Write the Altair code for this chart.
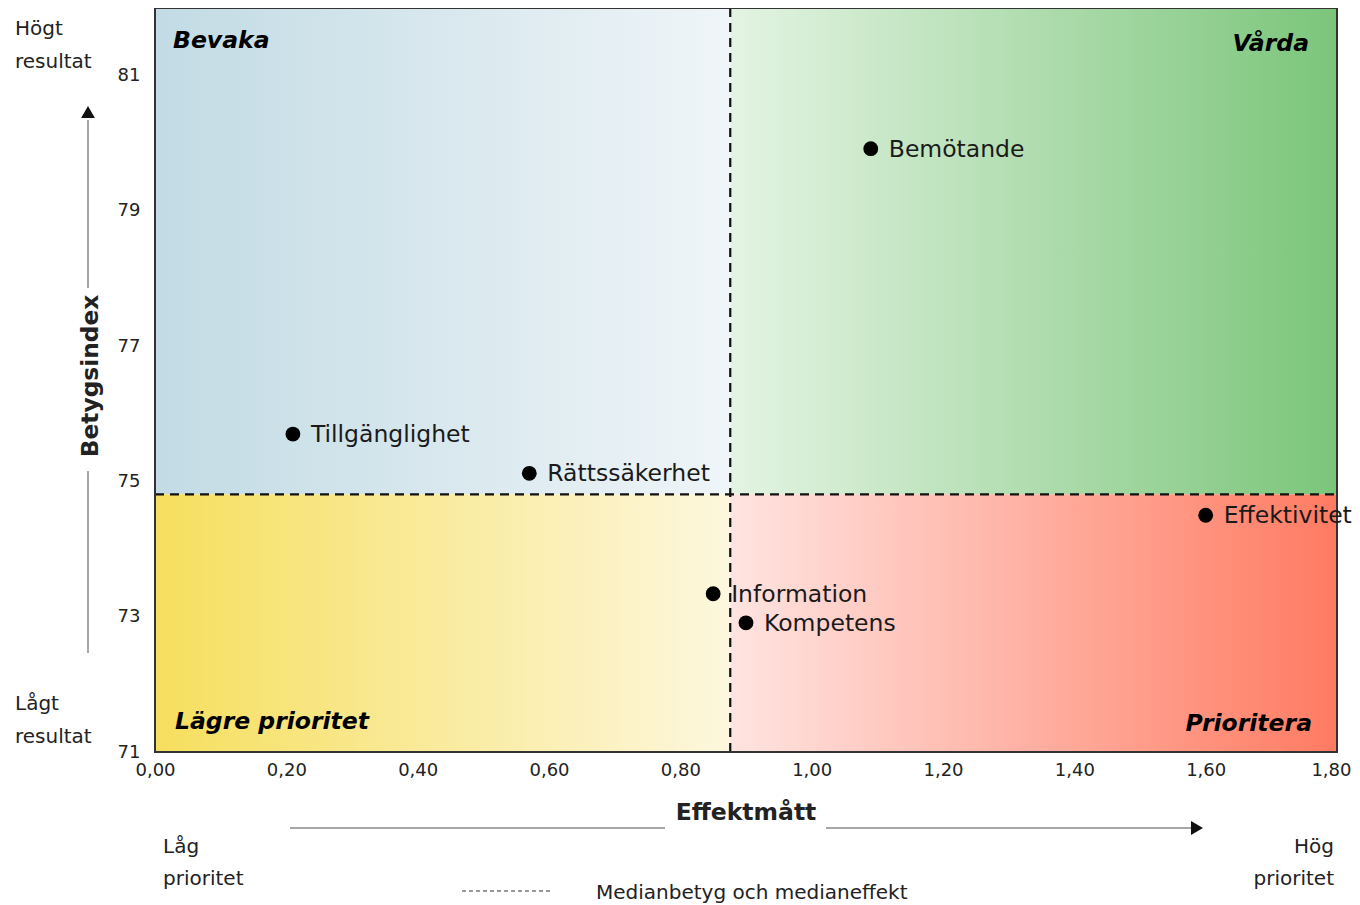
import altair as alt
import pandas as pd

# ---------------- data ----------------
names = ["Bemötande", "Tillgänglighet", "Rättssäkerhet", "Effektivitet", "Information", "Kompetens"]
effekt = [1.09, 0.21, 0.57, 1.60, 0.85, 0.90]
betyg = [79.92, 75.70, 75.12, 74.50, 73.34, 72.91]

median_effekt = 0.876
median_betyg = 74.81

x_ticks = [0.0, 0.2, 0.4, 0.6, 0.8, 1.0, 1.2, 1.4, 1.6, 1.8]
y_ticks = [71, 73, 75, 77, 79, 81]
x_min, x_max = 0.0, 1.8
y_min, y_max = 71, 82

quadrant_names = ["Bevaka", "Vårda", "Lägre prioritet", "Prioritera"]

FONT = "DejaVu Sans"
W, H = 1182, 744

df = pd.DataFrame({"namn": names, "effekt": effekt, "betyg": betyg})

xs = alt.Scale(domain=[x_min, x_max], nice=False, zero=False)
ys = alt.Scale(domain=[y_min, y_max], nice=False, zero=False)

x_axis = alt.Axis(
    values=x_ticks, labelExpr="replace(format(datum.value, '.2f'), '.', ',')",
    ticks=False, tickSize=0, domain=False, grid=False, title=None,
    labelFontSize=18, labelColor="#222", labelPadding=9, labelFont=FONT,
    labelFlush=False, labelOverlap=False,
    labelAlign={"condition": {"test": "datum.value >= 1.79", "value": "right"}, "value": "center"},
    labelOffset={"condition": {"test": "datum.value >= 1.79", "value": 14}, "value": 0},
)
y_axis = alt.Axis(
    values=y_ticks, ticks=False, tickSize=0, domain=False, grid=False, title=None,
    labelFontSize=18, labelColor="#222", labelPadding=15, labelFont=FONT,
    labelFlush=False, labelOverlap=False,
)


def X(field):
    return alt.X(field, scale=xs, axis=x_axis)


def Y(field):
    return alt.Y(field, scale=ys, axis=y_axis)


def grad(c0, c1):
    return {
        "gradient": "linear",
        "x1": 0, "y1": 0, "x2": 1, "y2": 0,
        "stops": [{"offset": 0, "color": c0}, {"offset": 1, "color": c1}],
    }


def quad(x0, x1, y0, y1, c0, c1):
    d = pd.DataFrame({"x": [x0], "x2": [x1], "y": [y0], "y2": [y1]})
    return alt.Chart(d).mark_rect(fill=grad(c0, c1), strokeWidth=0).encode(
        x=X("x:Q"), x2="x2:Q", y=Y("y:Q"), y2="y2:Q",
    )


q_tl = quad(x_min, median_effekt, median_betyg, y_max, "#c2dbe4", "#eff5f8")
q_tr = quad(median_effekt, x_max, median_betyg, y_max, "#e4f4e3", "#7bc57a")
q_bl = quad(x_min, median_effekt, y_min, median_betyg, "#f6df5e", "#fdf7de")
q_br = quad(median_effekt, x_max, y_min, median_betyg, "#ffe4e1", "#ff7b62")

one = alt.Data(values=[{"a": 1}])

# median lines
vline = alt.Chart(pd.DataFrame({"x": [median_effekt], "y": [y_min], "y2": [y_max]})).mark_rule(
    color="#111", strokeWidth=2.2, strokeDash=[9, 6]
).encode(x=X("x:Q"), y=Y("y:Q"), y2="y2:Q")

hline = alt.Chart(pd.DataFrame({"y": [median_betyg], "x": [x_min], "x2": [x_max]})).mark_rule(
    color="#111", strokeWidth=2.2, strokeDash=[9, 6]
).encode(y=Y("y:Q"), x=X("x:Q"), x2="x2:Q")

# frame
frame = alt.Chart(one).mark_rect(fillOpacity=0, fill="white", stroke="#333", strokeWidth=2).encode(
    x=alt.value(0), x2=alt.value(W), y=alt.value(0), y2=alt.value(H)
)

points = alt.Chart(df).mark_circle(size=220, color="black", opacity=1).encode(
    x=X("effekt:Q"), y=Y("betyg:Q"),
)

labels = alt.Chart(df).mark_text(
    align="left", baseline="middle", dx=18, dy=1, fontSize=23.5, font=FONT, color="#1a1a1a"
).encode(
    x=X("effekt:Q"), y=Y("betyg:Q"), text="namn:N",
)


def txt(t, px, py, size=20, align="left", bold=False, italic=False, angle=0,
        baseline="middle", color="#222"):
    kw = dict(align=align, baseline=baseline, fontSize=size, font=FONT, color=color)
    if bold:
        kw["fontWeight"] = "bold"
    if italic:
        kw["fontStyle"] = "italic"
    if angle:
        kw["angle"] = angle
    return alt.Chart(one).mark_text(**kw).encode(
        x=alt.value(px), y=alt.value(py), text=alt.value(t)
    )


def rule(x1, y1, x2=None, y2=None, color="#888", width=1.5, dash=None):
    kw = dict(color=color, strokeWidth=width)
    if dash:
        kw["strokeDash"] = dash
    enc = dict(x=alt.value(x1), y=alt.value(y1))
    if x2 is not None:
        enc["x2"] = alt.value(x2)
    if y2 is not None:
        enc["y2"] = alt.value(y2)
    return alt.Chart(one).mark_rule(**kw).encode(**enc)


def arrowhead(shape, px, py):
    return alt.Chart(one).mark_point(shape=shape, filled=True, size=190, color="#111", opacity=1).encode(
        x=alt.value(px), y=alt.value(py)
    )


annotations = [
    # quadrant names
    txt(quadrant_names[0], 18, 33, size=23.5, bold=True, italic=True, color="#000"),
    txt(quadrant_names[1], 1154, 36, size=23.5, bold=True, italic=True, align="right", color="#000"),
    txt(quadrant_names[2], 20, 714, size=23.5, bold=True, italic=True, color="#000"),
    txt(quadrant_names[3], 1157, 716, size=23.5, bold=True, italic=True, align="right", color="#000"),
    # left side
    txt("Högt", -140, 21),
    txt("resultat", -140, 54),
    txt("Lågt", -140, 696),
    txt("resultat", -140, 729),
    # bottom
    txt("Låg", 8, 839),
    txt("prioritet", 8, 871),
    txt("Hög", 1179, 839, align="right"),
    txt("prioritet", 1179, 871, align="right"),
    # axis titles
    txt("Effektmått", 591, 805, size=23.5, bold=True, align="center"),
    txt("Betygsindex", -64, 368, size=23.3, bold=True, align="center", angle=270),
    # arrows
    rule(135, 820, x2=510),
    rule(671, 820, x2=1036),
    arrowhead("triangle-right", 1042, 820),
    rule(-67, 645, y2=463),
    rule(-67, 280, y2=112),
    arrowhead("triangle-up", -67, 104),
    # legend
    rule(307, 883, x2=397, color="#333", width=1, dash=[4, 3]),
    txt("Medianbetyg och medianeffekt", 441, 891, baseline="alphabetic"),
]

chart = alt.layer(
    q_tl, q_tr, q_bl, q_br, vline, hline, frame, points, labels, *annotations
).properties(
    width=W, height=H,
    autosize=alt.AutoSizeParams(type="none"),
    padding={"left": 147, "top": 0, "right": 15, "bottom": 153},
).configure_view(stroke=None).configure(font=FONT)

chart.save("out.html", embed_options={"renderer": "svg", "actions": False})
